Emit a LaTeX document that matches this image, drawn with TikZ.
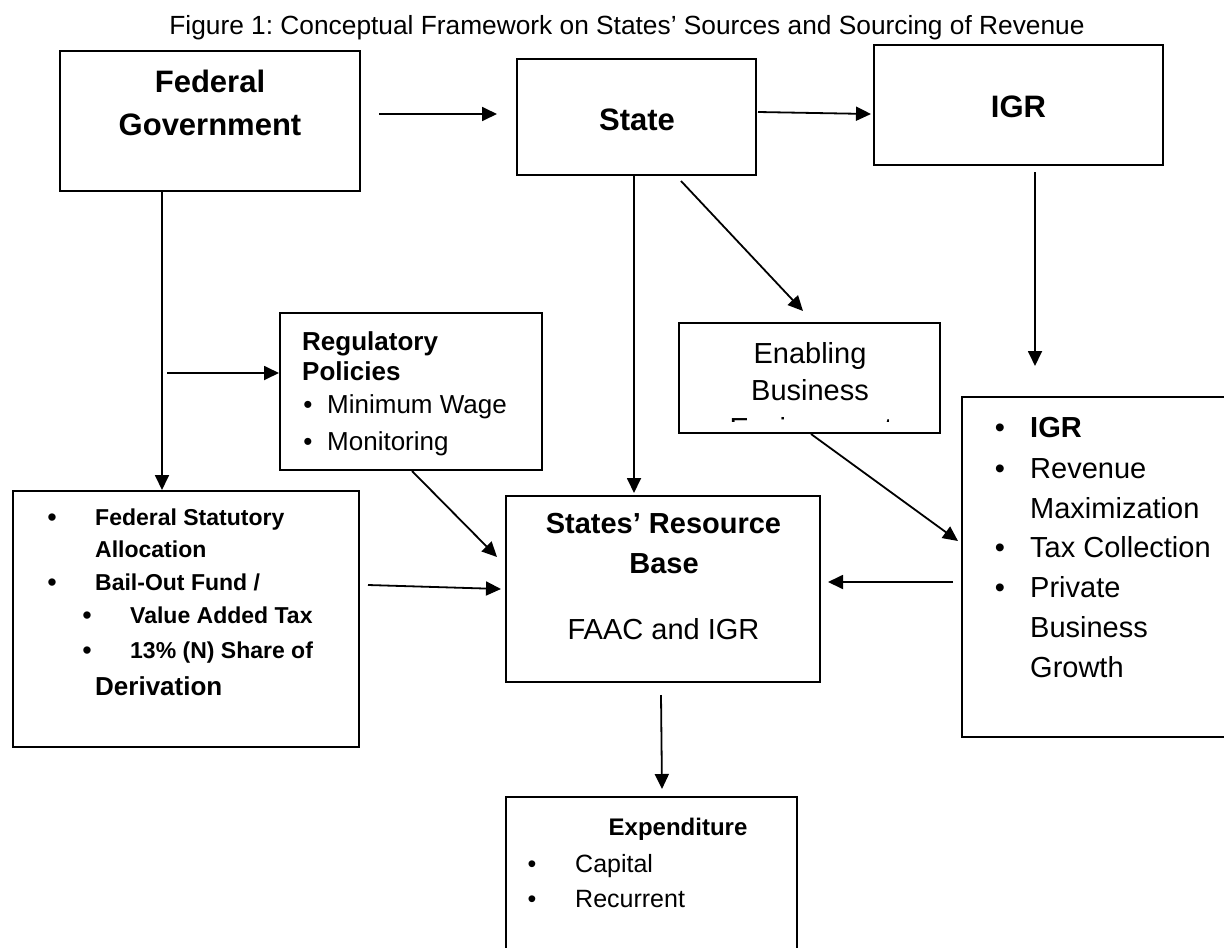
\documentclass[tikz,border=0pt]{standalone}
\usepackage{fontspec}
\setmainfont{Liberation Sans}
\usetikzlibrary{arrows.meta,calc}
\newcommand\fsz[1]{\fontsize{#1}{#1}\selectfont}
\frenchspacing
\tikzset{
  box/.style={draw, line width=2pt, rectangle, inner sep=0pt},
  arr/.style={line width=1.8pt, -{Triangle[length=15pt,width=14pt]}},
  txt/.style={inner sep=0pt, anchor=base},
  ltxt/.style={inner sep=0pt, anchor=base west},
  ttl/.style={txt, font=\bfseries\fsz{31}},
}
\begin{document}
\begin{tikzpicture}[x=1pt,y=-1pt]
\useasboundingbox (0,0) rectangle (1224,948);
\clip (0,0) rectangle (1224,948);
\fill[white] (0,0) rectangle (1224,948);

% title
\node[txt, font=\fsz{26.3}] (title) at (627,34) {Figure 1: Conceptual Framework on States’ Sources and Sourcing of Revenue};

% boxes
\node[box, minimum width=300pt, minimum height=140pt] (fed) at (210,121) {};
\node[box, minimum width=239pt, minimum height=116pt] (state) at (636.5,117) {};
\node[box, minimum width=289pt, minimum height=120pt] (igr) at (1018.5,105) {};
\node[box, minimum width=262pt, minimum height=157pt] (reg) at (411,391.5) {};
\node[box, minimum width=261pt, minimum height=110pt] (enab) at (809.5,378) {};
\node[box, minimum width=346pt, minimum height=256pt] (fl) at (186,619) {};
\node[box, minimum width=314pt, minimum height=186pt] (srb) at (663,589) {};
\node[box, minimum width=278pt, minimum height=340pt] (igrl) at (1101,567) {};
\node[box, minimum width=291pt, minimum height=163pt] (exp) at (651.5,878.5) {};

% box texts
\node[ttl] (fedt1) at (210,92) {Federal};
\node[ttl] (fedt2) at (210,135) {Government};
\node[ttl] (statet) at (637,130) {State};
\node[ttl] (igrt) at (1018.5,117) {IGR};

\node[ltxt, font=\bfseries\fsz{26}] (reg1) at (302,350) {Regulatory};
\node[ltxt, font=\bfseries\fsz{26}] (reg2) at (302,380) {Policies};
\node[txt, font=\fsz{26}] (regb1) at (308,413) {•};
\node[ltxt, font=\fsz{26}] (reg3) at (327,413) {Minimum Wage};
\node[txt, font=\fsz{26}] (regb2) at (308,450) {•};
\node[ltxt, font=\fsz{26}] (reg4) at (327,450) {Monitoring};

\node[txt, font=\fsz{29}] (en1) at (810,363) {Enabling};
\node[txt, font=\fsz{29}] (en2) at (810,400) {Business};
\begin{scope}
\clip (681,325) rectangle (938,421);
\node[txt, font=\fsz{29}] (en3) at (811,438) {Environment};
\end{scope}

\begin{scope}[font=\bfseries\fsz{23}]
\node[txt, font=\fsz{27}] (flb1) at (52,526) {•};
\node[ltxt] (fl1) at (95,525) {Federal Statutory};
\node[ltxt] (fl2) at (95,557) {Allocation};
\node[txt, font=\fsz{27}] (flb2) at (52,591) {•};
\node[ltxt] (fl3) at (95,590) {Bail-Out Fund /};
\node[txt, font=\fsz{27}] (flb3) at (87,624) {•};
\node[ltxt] (fl4) at (130,623) {Value Added Tax};
\node[txt, font=\fsz{27}] (flb4) at (87,659) {•};
\node[ltxt] (fl5) at (130,658) {13\% (N) Share of};
\end{scope}
\node[ltxt, font=\bfseries\fsz{26}] (fl6) at (95,695) {Derivation};

\node[txt, font=\bfseries\fsz{29}] (srb1) at (663.5,533) {States’ Resource};
\node[txt, font=\bfseries\fsz{29}] (srb2) at (664,573) {Base};
\node[txt, font=\fsz{29}] (srb3) at (663.5,639) {FAAC and IGR};

\begin{scope}[font=\fsz{29}]
\node[txt] (ib1) at (1000,437) {•};
\node[ltxt, font=\bfseries\fsz{29}] (il1) at (1030,437) {IGR};
\node[txt] (ib2) at (1000,478) {•};
\node[ltxt] (il2) at (1030,478) {Revenue};
\node[ltxt] (il3) at (1030,518) {Maximization};
\node[txt] (ib3) at (1000,557) {•};
\node[ltxt] (il4) at (1030,557) {Tax Collection};
\node[txt] (ib4) at (1000,597) {•};
\node[ltxt] (il5) at (1030,597) {Private};
\node[ltxt] (il6) at (1030,637) {Business};
\node[ltxt] (il7) at (1030,677) {Growth};
\end{scope}

\node[txt, font=\bfseries\fsz{24}] (ex1) at (678,835) {Expenditure};
\node[txt, font=\fsz{25}] (exb1) at (532,872) {•};
\node[ltxt, font=\fsz{25}] (ex2) at (575,872) {Capital};
\node[txt, font=\fsz{25}] (exb2) at (532,907) {•};
\node[ltxt, font=\fsz{25}] (ex3) at (575,907) {Recurrent};

% connectors
\coordinate (br) at (167,373);
\draw[arr] ($(fed.east)+(18,-7)$) -- ($(state.west)+(-19,-3)$);
\draw[arr] ($(state.east)+(1,-5)$) -- ($(igr.west)+(-2,9)$);
\draw[arr] ($(fed.south)+(-48,0)$) -- ($(fl.north)+(-24,0)$);
\draw[arr] (br) -- ($(reg.west)+(0,-18.5)$);
\draw[arr] ($(state.south)+(-2.5,0)$) -- ($(srb.north)+(-29,-2)$);
\draw[arr] ($(state.south)+(44.5,5)$) -- ($(enab.north)+(-6.5,-11)$);
\draw[arr] ($(igr.south)+(16.5,6)$) -- ($(igrl.north)+(-66,-30)$);
\draw[arr] ($(reg.south)+(1,0)$) -- ($(srb.west)+(-8,-32)$);
\draw[arr] ($(enab.south)+(1.5,0)$) -- ($(igrl.west)+(-3,-26)$);
\draw[arr] ($(fl.east)+(8,-34)$) -- ($(srb.west)+(-4,0)$);
\draw[arr] ($(igrl.west)+(-8,15)$) -- ($(srb.east)+(7,-7)$);
\draw[arr] ($(srb.south)+(-2,12)$) -- ($(exp.north)+(10.5,-7)$);
\end{tikzpicture}
\end{document}
